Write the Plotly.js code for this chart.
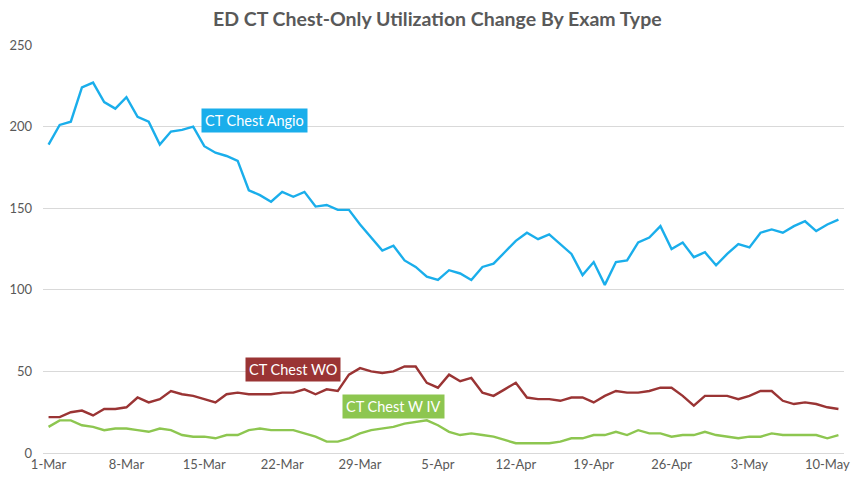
<!DOCTYPE html>
<html>
<head>
<meta charset="utf-8">
<script src="https://cdn.plot.ly/plotly-3.0.1.min.js"></script>
<style>
html,body{margin:0;padding:0;background:#fff;}
#chart{width:861px;height:478px;}
</style>
</head>
<body>
<div id="chart"></div>
<script>
// Daily dates, 1-Mar through 11-May (2020)
const startDate = "2020-03-01";
const dayCount = 72;

const angio = [189,201,203,224,227,215,211,218,206,203,189,197,198,200,188,184,182,179,161,158,
               154,160,157,160,151,152,149,149,140,132,124,127,118,114,108,106,112,110,106,114,
               116,123,130,135,131,134,128,122,109,117,103,117,118,129,132,139,125,129,120,123,
               115,122,128,126,135,137,135,139,142,136,140,143];
const chestWO = [22,22,25,26,23,27,27,28,34,31,33,38,36,35,33,31,36,37,36,36,
                 36,37,37,39,36,39,38,48,52,50,49,50,53,53,43,40,48,44,46,37,
                 35,39,43,34,33,33,32,34,34,31,35,38,37,37,38,40,40,35,29,35,
                 35,35,33,35,38,38,32,30,31,30,28,27];
const chestWIV = [16,20,20,17,16,14,15,15,14,13,15,14,11,10,10,9,11,11,14,15,
                  14,14,14,12,10,7,7,9,12,14,15,16,18,19,20,17,13,11,12,11,
                  10,8,6,6,6,6,7,9,9,11,11,13,11,14,12,12,10,11,11,13,
                  11,10,9,10,10,12,11,11,11,11,9,11];

const tickDates = ["2020-03-01","2020-03-08","2020-03-15","2020-03-22","2020-03-29","2020-04-05",
                   "2020-04-12","2020-04-19","2020-04-26","2020-05-03","2020-05-10"];
const tickLabels = ["1-Mar","8-Mar","15-Mar","22-Mar","29-Mar","5-Apr","12-Apr","19-Apr","26-Apr","3-May","10-May"];
const yTicks = [0,50,100,150,200,250];

const seriesNames = ["CT Chest Angio","CT Chest WO","CT Chest W IV"];
const seriesColors = ["#1AAEEB","#9A3434","#8DC650"];

function buildDates(start, n){
  const out = [];
  const d0 = new Date(start + "T00:00:00Z");
  for(let i=0;i<n;i++){
    const d = new Date(d0.getTime() + i*86400000);
    out.push(d.toISOString().slice(0,10));
  }
  return out;
}
const dates = buildDates(startDate, dayCount);

const seriesValues = [angio, chestWO, chestWIV];
const traces = seriesValues.map((vals, k) => ({
  type: "scatter",
  mode: "lines",
  x: dates,
  y: vals,
  name: seriesNames[k],
  line: {color: seriesColors[k], width: 2.4, shape: "linear"},
  hoverinfo: "x+y+name"
}));

// label anchor points (date, value) for the in-chart series labels
const labelDates = ["2020-03-19 12:00","2020-03-23","2020-04-01"];
const labelValues = [203.5, 51, 28.5];

const FONT = "Lato, 'Open Sans', sans-serif";

const annotations = seriesNames.map((nm, k) => ({
  x: labelDates[k], y: labelValues[k], xref: "x", yref: "y",
  text: nm, showarrow: false,
  font: {family: FONT, size: 14.5, color: "#ffffff"},
  bgcolor: seriesColors[k], borderpad: 3
}));

const layout = {
  width: 861, height: 478,
  margin: {l: 43, r: 17, t: 45, b: 25},
  paper_bgcolor: "#ffffff", plot_bgcolor: "#ffffff",
  showlegend: false,
  title: {
    text: "<b>ED CT Chest-Only Utilization Change By Exam Type</b>",
    x: 0.508, xanchor: "center", y: 0.96, yanchor: "middle",
    font: {family: FONT, size: 19.5, color: "#595959"}
  },
  xaxis: {
    type: "date",
    range: ["2020-02-29 12:00", "2020-05-11 12:00"],
    tickmode: "array", tickvals: tickDates, ticktext: tickLabels,
    showgrid: false, zeroline: false,
    showline: false, ticks: "",
    tickfont: {family: FONT, size: 13, color: "#595959"},
    ticklabelstandoff: 2
  },
  yaxis: {
    range: [0, 250],
    tickmode: "array", tickvals: yTicks,
    showgrid: true, gridcolor: "#D9D9D9", gridwidth: 1,
    zeroline: true, zerolinecolor: "#D9D9D9", zerolinewidth: 1,
    showline: false, ticks: "",
    tickfont: {family: FONT, size: 13, color: "#595959"},
    ticklabelstandoff: 10
  },
  annotations: annotations
};

Plotly.newPlot("chart", traces, layout, {displayModeBar: false, staticPlot: true});
</script>
</body>
</html>
